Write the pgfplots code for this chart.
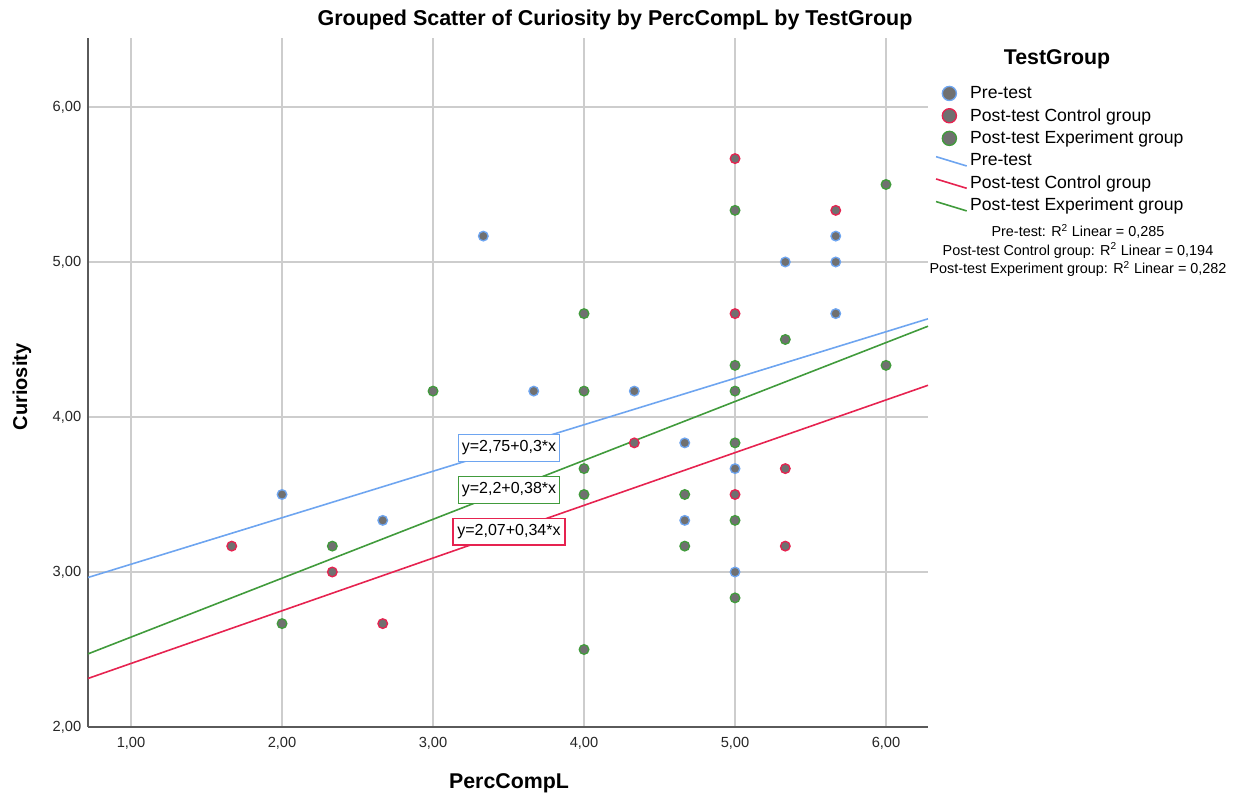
\documentclass[border=0pt]{standalone}
\usepackage{pgfplots}
\pgfplotsset{compat=1.18}
\usepackage{fontspec}
\setmainfont{Liberation Sans}
\definecolor{cblue}{RGB}{110,165,240}
\definecolor{cred}{RGB}{230,35,80}
\definecolor{cgreen}{RGB}{65,155,60}
\definecolor{mfill}{RGB}{112,112,112}
\definecolor{gridc}{RGB}{205,205,205}
\definecolor{axc}{RGB}{90,90,90}
\begin{document}
\begin{tikzpicture}
\path[use as bounding box] (-66pt,-51.75pt) rectangle (862.5pt,545.25pt);
\begin{axis}[
  at={(0,0)}, anchor=south west,
  scale only axis, width=630pt, height=516.75pt,
  xmin=0.715, xmax=6.278, ymin=2, ymax=6.445,
  axis x line=bottom, axis y line=left,
  axis line style={-, draw=axc, line width=0.9pt},
  xtick={1,2,3,4,5,6}, ytick={2,3,4,5,6},
  major tick length=0pt,
  grid=major, major grid style={draw=gridc, line width=1pt},
  xticklabel style={font=\fontsize{11}{13}\selectfont, text=black!85, yshift=-4.5pt},
  yticklabel style={font=\fontsize{11}{13}\selectfont, text=black!85, xshift=-1.5pt},
  clip=false,
  legend style={at={(1.0083,0.934)}, anchor=north west, draw=none, fill=none,
    font=\fontsize{13.2}{15}\selectfont, row sep=1.9pt, inner sep=0pt,
    cells={anchor=west}},
  legend cell align=left,
  /pgf/number format/.cd, fixed, fixed zerofill, precision=2, use comma, assume math mode=true
]
\pgfplotsset{
  mleg/.style={legend image code/.code={\path[draw=none,fill=none] (0pt,0pt) -- (23pt,0pt); \draw[##1, mark size=5.3pt] plot[only marks] coordinates {(10pt,0pt)};}},
  lleg/.style={legend image code/.code={\draw[##1] (0pt,3pt) -- (23pt,-4pt);}}
}
% Pre-test
\addplot[only marks, mark=*, mark size=3.6pt, mark options={fill=mfill, draw=cblue, line width=1pt}, mleg] coordinates {
(2.000,3.500) (2.667,3.333) (3.333,5.167) (3.667,4.167) (4.333,4.167)
(4.667,3.833) (4.667,3.333) (5.000,3.667) (5.000,3.000) (5.333,5.000)
(5.667,5.167) (5.667,5.000) (5.667,4.667)
};
\addlegendentry{Pre-test}
% Post-test Control
\addplot[only marks, mark=*, mark size=3.6pt, mark options={fill=mfill, draw=cred, line width=1pt}, mleg] coordinates {
(1.667,3.167) (2.333,3.000) (2.667,2.667) (4.333,3.833) (5.000,5.667)
(5.000,4.667) (5.000,3.500) (5.333,3.667) (5.333,3.167) (5.667,5.333)
};
\addlegendentry{Post-test Control group}
% Post-test Experiment
\addplot[only marks, mark=*, mark size=3.6pt, mark options={fill=mfill, draw=cgreen, line width=1pt}, mleg] coordinates {
(2.000,2.667) (2.333,3.167) (3.000,4.167) (4.000,4.667) (4.000,4.167)
(4.000,3.667) (4.000,3.500) (4.000,2.500) (4.667,3.500) (4.667,3.167)
(5.000,5.333) (5.000,4.333) (5.000,4.167) (5.000,3.833) (5.000,3.333)
(5.000,2.833) (5.333,4.500) (6.000,5.500) (6.000,4.333)
};
\addlegendentry{Post-test Experiment group}
% fit lines
\addplot[cblue, line width=1.2pt, lleg] coordinates {(0.715,2.9645) (6.278,4.6334)};
\addlegendentry{Pre-test}
\addplot[cred, line width=1.2pt, lleg] coordinates {(0.715,2.3131) (6.278,4.2045)};
\addlegendentry{Post-test Control group}
\addplot[cgreen, line width=1.2pt, lleg] coordinates {(0.715,2.4717) (6.278,4.5856)};
\addlegendentry{Post-test Experiment group}
\node[draw=cblue, fill=white, line width=0.8pt, font=\fontsize{12}{14}\selectfont, minimum height=20pt, minimum width=76pt, inner sep=2pt] at (axis cs:3.503,3.80) {y=2,75+0,3*x};
\node[draw=cgreen, fill=white, line width=0.8pt, font=\fontsize{12}{14}\selectfont, minimum height=20pt, minimum width=76pt, inner sep=2pt] at (axis cs:3.503,3.53) {y=2,2+0,38*x};
\node[draw=cred, fill=white, line width=0.8pt, font=\fontsize{12}{14}\selectfont, minimum height=20pt, minimum width=84pt, inner sep=2pt] at (axis cs:3.503,3.26) {y=2,07+0,34*x};
\end{axis}
\node[font=\bfseries\fontsize{16.1}{19}\selectfont] at (395.25pt,530.25pt) {Grouped Scatter of Curiosity by PercCompL by TestGroup};
\node[font=\bfseries\fontsize{16}{19}\selectfont] at (315.75pt,-42pt) {PercCompL};
\node[font=\bfseries\fontsize{15}{18}\selectfont, rotate=90] at (-49.5pt,255pt) {Curiosity};
\node[font=\bfseries\fontsize{16}{19}\selectfont] at (726.75pt,500.5pt) {TestGroup};
\node[font=\fontsize{10.8}{13.9}\selectfont, align=center] at (742.5pt,357.5pt) {Pre-test: R\textsuperscript{2} Linear = 0,285\\Post-test Control group: R\textsuperscript{2} Linear = 0,194\\Post-test Experiment group: R\textsuperscript{2} Linear = 0,282};
\end{tikzpicture}
\end{document}
